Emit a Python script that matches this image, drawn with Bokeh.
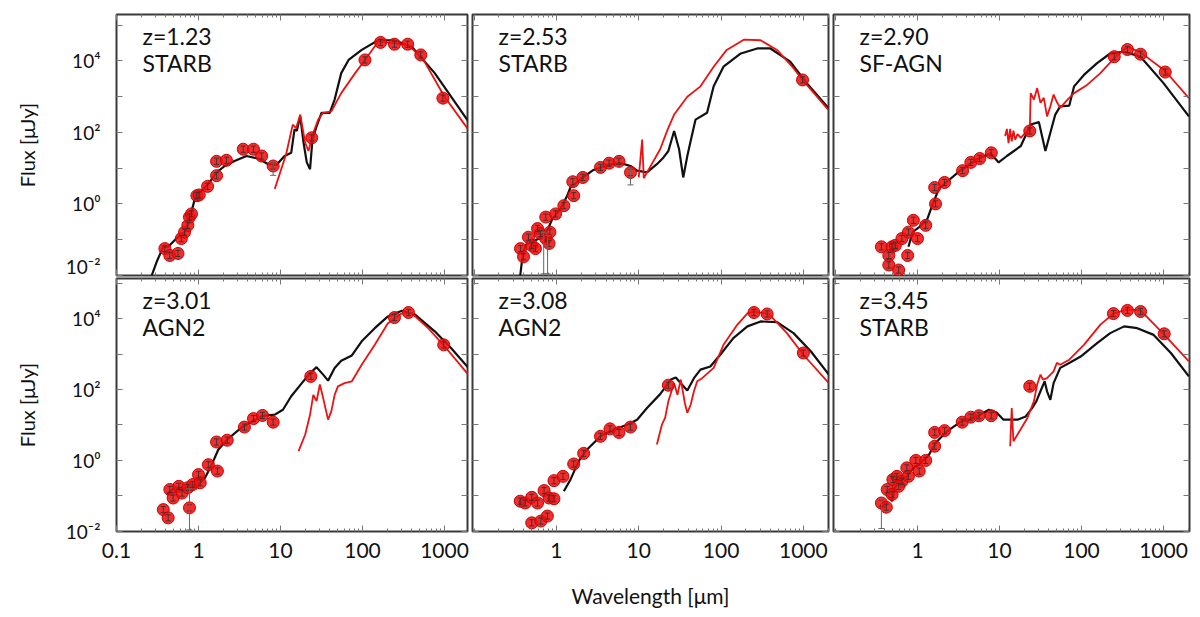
from bokeh.plotting import figure
from bokeh.models import (Range1d, LogAxis, FixedTicker, CustomJSTickFormatter, Label,
                          ColumnDataSource, Whisker, TeeHead)
from bokeh.layouts import row, column
from bokeh.embed import file_html
from bokeh.resources import INLINE

FONT = "Lato"

# ---------------- data (wavelength in micron, flux in microJy) ----------------
panel_z = ["z=1.23", "z=2.53", "z=2.90", "z=3.01", "z=3.08", "z=3.45"]
panel_type = ["STARB", "STARB", "SF-AGN", "AGN2", "AGN2", "STARB"]

# panel 1
p1_obs_wl = [0.389, 0.447, 0.562, 0.617, 0.676, 0.741, 0.776, 0.822, 0.955, 1.02, 1.29, 1.66, 1.66, 2.19,
             3.51, 4.68, 5.89, 8.13, 24.0, 107, 166, 245, 355, 513, 955]
p1_obs_flux = [0.056, 0.036, 0.041, 0.107, 0.162, 0.251, 0.427, 0.525, 1.70, 1.78, 3.09, 6.17, 15.5, 16.6,
               33.9, 33.9, 21.9, 11.5, 70.8, 10700, 33100, 29500, 29500, 14800, 912]
p1_bk_wl = [0.269, 0.309, 0.372, 0.427, 0.537, 0.676, 0.776, 0.902, 1.0, 1.32, 1.66, 2.09, 2.75, 3.85, 5.37,
            7.08, 8.91, 11.2, 13.5, 14.8, 15.8, 17.4, 19.1, 20.9, 22.9, 24.5, 27.5, 31.6, 39.8, 45.7, 55.0,
            67.6, 97.7, 155, 245, 398, 759, 1950]
p1_bk_flux = [0.01, 0.024, 0.063, 0.063, 0.107, 0.162, 0.372, 1.38, 1.91, 3.63, 7.59, 11.5, 15.8, 21.9, 18.6,
              12.9, 12.3, 21.9, 26.9, 120, 112, 282, 51.3, 14.5, 9.33, 63.1, 148, 355, 355, 832, 4570,
              10700, 20400, 38000, 38000, 25100, 4570, 204]
p1_rd_wl = [8.51, 11.7, 14.1, 15.5, 17.4, 20.0, 21.9, 25.1, 28.8, 33.1, 41.7, 55.0, 81.3, 107, 155, 245, 355,
            525, 1000, 1950]
p1_rd_flux = [2.63, 24.5, 166, 132, 316, 51.3, 30.2, 97.7, 229, 355, 389, 1260, 4570, 10700, 34700, 31600,
              27500, 13200, 1000, 120]

# panel 2
p2_obs_wl = [0.366, 0.398, 0.457, 0.501, 0.556, 0.589, 0.638, 0.741, 0.813, 0.832, 0.741, 0.977, 1.23, 1.62,
             1.58, 2.09, 3.43, 4.37, 5.75, 7.94, 977]
p2_obs_flux = [0.056, 0.033, 0.117, 0.069, 0.056, 0.204, 0.148, 0.107, 0.078, 0.162, 0.427, 0.525, 0.891,
               1.70, 4.17, 5.50, 10.5, 13.8, 15.5, 7.59, 2950]
p2_bk_wl = [0.363, 0.380, 0.417, 0.525, 0.676, 0.794, 0.891, 1.12, 1.35, 1.48, 1.95, 2.82, 4.17, 6.03, 7.94,
            9.55, 12.6, 16.6, 20.0, 22.9, 26.9, 30.9, 34.7, 38.9, 42.7, 49.0, 67.6, 81.3, 107, 174, 275,
            398, 692, 1100, 2000]
p2_bk_flux = [0.01, 0.024, 0.069, 0.091, 0.117, 0.204, 0.380, 0.724, 1.70, 2.88, 4.90, 8.91, 12.3, 13.8,
              11.5, 8.51, 7.59, 12.9, 20.0, 30.2, 110, 33.9, 5.50, 21.9, 57.5, 229, 355, 1950, 6920, 16200,
              22400, 22400, 9550, 2400, 490]
p2_rd_wl = [10.0, 11.0, 11.5, 18.2, 22.4, 26.9, 38.9, 56.2, 81.3, 117, 191, 302, 479, 759, 977, 2000]
p2_rd_flux = [5.50, 63.1, 5.25, 33.9, 120, 316, 1000, 1950, 6920, 20400, 39800, 38000, 20400, 6310, 2950,
              437]

# panel 3
p3_obs_wl = [0.363, 0.447, 0.447, 0.490, 0.589, 0.537, 0.646, 0.759, 0.776, 0.891, 1.0, 1.26, 1.66, 1.62,
             2.14, 3.55, 4.47, 5.75, 7.94, 23.4, 251, 363, 525, 1050]
p3_obs_flux = [0.063, 0.036, 0.0195, 0.063, 0.0141, 0.069, 0.107, 0.036, 0.162, 0.347, 0.107, 0.251, 1.0,
               2.88, 3.98, 8.51, 14.5, 18.6, 26.9, 110, 13200, 20900, 15500, 4900]
p3_bk_wl = [0.776, 0.871, 1.05, 1.32, 1.51, 1.82, 2.29, 3.31, 5.37, 7.76, 9.77, 12.3, 18.2, 24.0, 30.2, 36.3,
            41.7, 47.9, 55.0, 70.8, 81.3, 107, 155, 224, 331, 525, 1000, 2040]
p3_bk_flux = [0.063, 0.162, 0.224, 0.380, 0.891, 2.63, 4.17, 8.51, 17.8, 26.3, 14.5, 21.9, 41.7, 166, 195,
              30.2, 97.7, 316, 537, 562, 1950, 4070, 8710, 16200, 18200, 13200, 2400, 282]
p3_rd_wl = [11.7, 12.3, 12.9, 13.5, 14.1, 14.8, 15.5, 16.6, 18.2, 20.9, 23.4, 24.0, 26.3, 28.8, 31.6, 34.7,
            38.0, 41.7, 45.7, 50.1, 55.0, 67.6, 81.3, 117, 170, 251, 363, 525, 1050, 2040]
p3_rd_flux = [79.4, 126, 50.1, 126, 56.2, 112, 63.1, 89.1, 70.8, 100, 110, 1260, 832, 1740, 676, 933, 282,
              537, 1150, 708, 490, 832, 1260, 2140, 4570, 12000, 25100, 17400, 5250, 912]

# panel 4
p4_obs_wl = [0.372, 0.427, 0.447, 0.490, 0.575, 0.631, 0.741, 0.776, 0.851, 1.0, 1.05, 1.32, 1.70, 1.66,
             2.24, 3.63, 4.68, 6.03, 8.13, 23.4, 245, 363, 977]
p4_obs_flux = [0.041, 0.024, 0.151, 0.087, 0.186, 0.120, 0.170, 0.046, 0.209, 0.398, 0.234, 0.759, 0.501,
               3.31, 3.72, 8.71, 15.1, 18.6, 12.0, 234, 10700, 14800, 1820]
p4_bk_wl = [0.407, 0.513, 0.708, 0.851, 1.0, 1.20, 1.45, 1.74, 2.24, 3.31, 5.89, 8.51, 10.7, 13.5, 18.2, 22.9,
            27.5, 33.1, 38.0, 45.7, 55.0, 74.1, 97.7, 141, 204, 302, 437, 759, 1200, 1950]
p4_bk_flux = [0.110, 0.170, 0.170, 0.186, 0.209, 0.324, 0.759, 2.0, 3.89, 8.32, 17.8, 19.5, 26.9, 64.6, 151,
              288, 427, 263, 178, 407, 646, 912, 2290, 5370, 11500, 16600, 12900, 4370, 1480, 407]
p4_rd_wl = [16.6, 20.0, 22.9, 25.1, 27.5, 30.2, 33.1, 38.0, 41.7, 45.7, 50.1, 60.3, 74.1, 97.7, 141, 204, 302,
            398, 631, 1000, 1950]
p4_rd_flux = [1.82, 5.37, 19.5, 70.8, 46.8, 138, 57.5, 14.1, 24.5, 70.8, 123, 151, 170, 501, 1820, 7410,
              14100, 14100, 5370, 1660, 263]

# panel 5
p5_obs_wl = [0.363, 0.417, 0.501, 0.589, 0.708, 0.813, 0.933, 0.501, 0.646, 0.776, 0.933, 1.20, 1.62, 2.14,
             3.43, 4.47, 5.75, 7.94, 22.9, 251, 363, 1000]
p5_obs_flux = [0.071, 0.063, 0.091, 0.063, 0.141, 0.087, 0.083, 0.0174, 0.0195, 0.0269, 0.269, 0.355, 0.794,
               1.58, 4.79, 7.76, 6.17, 8.71, 132, 14800, 13500, 1070]
p5_bk_wl = [1.23, 1.48, 1.86, 2.34, 3.43, 5.01, 7.24, 9.55, 12.6, 18.2, 24.5, 28.2, 32.4, 38.9, 46.8, 56.2,
            74.1, 97.7, 141, 209, 302, 479, 759, 1230, 2040]
p5_bk_flux = [0.135, 0.288, 0.955, 2.0, 4.79, 7.41, 10.2, 14.1, 30.2, 74.1, 191, 219, 151, 93.3, 209, 363,
              447, 955, 2820, 6030, 8320, 7940, 3890, 1200, 263]
p5_rd_wl = [16.6, 19.1, 20.9, 22.9, 25.7, 26.9, 29.5, 32.4, 36.3, 38.9, 42.7, 46.8, 51.3, 58.9, 81.3, 107,
            158, 209, 251, 380, 631, 1000, 2040]
p5_rd_flux = [2.82, 10.2, 15.8, 46.8, 110, 151, 70.8, 191, 41.7, 21.9, 37.2, 89.1, 170, 209, 407, 1820,
              6760, 14100, 15800, 13500, 3890, 955, 151]

# panel 6
p6_obs_wl = [0.363, 0.417, 0.427, 0.490, 0.501, 0.562, 0.646, 0.589, 0.741, 0.776, 0.955, 1.05, 1.26, 1.62,
             1.62, 2.14, 3.51, 4.47, 5.62, 7.94, 23.4, 245, 363, 525, 1020]
p6_obs_flux = [0.063, 0.048, 0.151, 0.110, 0.288, 0.355, 0.257, 0.186, 0.617, 0.355, 1.0, 0.501, 1.0, 2.51,
               6.17, 6.92, 12.0, 16.6, 18.2, 18.2, 123, 13800, 17000, 15800, 3720]
p6_bk_wl = [0.437, 0.490, 0.537, 0.589, 0.741, 0.891, 1.10, 1.38, 1.66, 2.29, 3.31, 5.37, 7.41, 9.33, 11.2,
            16.6, 20.9, 25.1, 28.2, 31.6, 35.5, 38.0, 41.7, 45.7, 55.0, 70.8, 97.7, 155, 224, 331, 479, 759,
            1230, 2040]
p6_bk_flux = [0.1, 0.071, 0.178, 0.257, 0.355, 0.617, 0.851, 1.45, 3.09, 6.61, 12.0, 17.4, 26.9, 21.9, 14.1,
              14.1, 17.4, 30.2, 46.8, 89.1, 170, 89.1, 51.3, 151, 407, 562, 851, 2040, 3890, 6030, 5370, 3470,
              1070, 234]
p6_rd_wl = [13.5, 14.1, 14.8, 21.9, 26.3, 28.8, 31.6, 33.9, 38.0, 45.7, 50.1, 55.0, 70.8, 107, 170, 245, 363,
            525, 1000, 2040]
p6_rd_flux = [2.51, 30.2, 3.47, 15.8, 46.8, 138, 263, 191, 209, 324, 562, 501, 692, 1820, 6760, 13800, 18200,
              17000, 3720, 617]

# long error bars (wavelength, lower, upper) per panel
long_err = {
    1: ([8.13], [6.3], [14.0]),
    2: ([0.70, 0.78, 7.94], [0.011, 0.011, 3.4], [0.16, 0.13, 9.5]),
    3: ([], [], []),
    4: ([0.776], [0.011], [0.16]),
    5: ([], [], []),
    6: ([0.363], [0.012], [0.08]),
}
ERR_FACTOR = 1.22

obs_wl = [p1_obs_wl, p2_obs_wl, p3_obs_wl, p4_obs_wl, p5_obs_wl, p6_obs_wl]
obs_flux = [p1_obs_flux, p2_obs_flux, p3_obs_flux, p4_obs_flux, p5_obs_flux, p6_obs_flux]
bk_wl = [p1_bk_wl, p2_bk_wl, p3_bk_wl, p4_bk_wl, p5_bk_wl, p6_bk_wl]
bk_flux = [p1_bk_flux, p2_bk_flux, p3_bk_flux, p4_bk_flux, p5_bk_flux, p6_bk_flux]
rd_wl = [p1_rd_wl, p2_rd_wl, p3_rd_wl, p4_rd_wl, p5_rd_wl, p6_rd_wl]
rd_flux = [p1_rd_flux, p2_rd_flux, p3_rd_flux, p4_rd_flux, p5_rd_flux, p6_rd_flux]

# tick positions and labels
x_decades = [0.1, 1, 10, 100, 1000]
x_labels_first = [0.1, 1, 10, 100, 1000]
x_labels_other = [1, 10, 100, 1000]
x_minor = [m * d for d in (0.1, 1, 10, 100, 1000) for m in range(2, 10)]
y_decades = [1e-2, 1e-1, 1, 10, 100, 1e3, 1e4, 1e5]
y_labelled = [1e-2, 1, 100, 1e4]
y_unlabelled = [1e-1, 10, 1e3, 1e5]

x_ranges = [(0.1, 1905), (0.0955, 2020), (0.0946, 2075)]
y_ranges = [(0.0099, 2.0e5), (0.0099, 1.35e5)]

frame_w = [351, 356, 356]
col_left = [116, 3, 3]
col_right = [2, 2, 2]
frame_h = [261, 253]
row_top = [14, 1]
row_bottom = [2, 80]

RED = "#ee1111"
TICK = "#777777"

ytick_js = """
const e = Math.round(Math.log10(tick));
const s = {"-": "\\u207b", "0": "\\u2070", "1": "\\u00b9", "2": "\\u00b2", "3": "\\u00b3", "4": "\\u2074", "5": "\\u2075"};
return "10" + String(e).split("").map(c => s[c]).join("");
"""
xtick_js = """
if (tick < 0.5) { return "0.1"; }
return String(Math.round(tick));
"""


def base_style(ax):
    ax.axis_line_color = None
    ax.major_tick_out = 0
    ax.minor_tick_out = 0
    ax.major_tick_line_color = TICK
    ax.minor_tick_line_color = TICK
    ax.major_tick_line_width = 1
    ax.minor_tick_line_width = 1
    ax.major_label_standoff = 0


def bare_axis(ax, ticks, length):
    """axis drawing only (unlabelled) inward ticks"""
    ax.ticker = FixedTicker(ticks=[], minor_ticks=ticks)
    base_style(ax)
    ax.major_tick_in = 0
    ax.minor_tick_in = length


def add_bare_x(p, side, first=None):
    a = first if first is not None else LogAxis()
    bare_axis(a, x_decades, 6)
    if first is None:
        p.add_layout(a, side)
    b = LogAxis()
    bare_axis(b, x_minor, 3)
    p.add_layout(b, side)


def add_bare_y(p, side, first=None):
    a = first if first is not None else LogAxis()
    bare_axis(a, y_decades, 6)
    if first is None:
        p.add_layout(a, side)


figs = []
for i in range(6):
    r, c = divmod(i, 3)
    p = figure(frame_width=frame_w[c], frame_height=frame_h[r],
               x_axis_type="log", y_axis_type="log",
               x_range=Range1d(*x_ranges[c]), y_range=Range1d(*y_ranges[r]),
               output_backend="svg", toolbar_location=None,
               min_border_left=col_left[c], min_border_right=col_right[c],
               min_border_top=row_top[r], min_border_bottom=row_bottom[r])
    p.xgrid.visible = False
    p.ygrid.visible = False
    p.outline_line_color = "#3a3a3a"
    p.outline_line_width = 2
    p.background_fill_color = "white"
    p.border_fill_color = "white"

    bottom_ax = p.xaxis[0]
    left_ax = p.yaxis[0]

    # bottom axis
    if r == 1:
        labs = x_labels_first if c == 0 else x_labels_other
        mins = x_minor if c == 0 else x_minor + [0.1]
        bottom_ax.ticker = FixedTicker(ticks=labs, minor_ticks=mins)
        bottom_ax.formatter = CustomJSTickFormatter(code=xtick_js)
        base_style(bottom_ax)
        bottom_ax.major_tick_in = 6
        bottom_ax.minor_tick_in = 3
        bottom_ax.major_label_text_font = FONT
        bottom_ax.major_label_text_color = "#111111"
        bottom_ax.major_label_text_font_size = "21px"
        bottom_ax.major_label_standoff = 11
    else:
        add_bare_x(p, "below", first=bottom_ax)

    # left axis
    if c == 0:
        left_ax.ticker = FixedTicker(ticks=y_labelled, minor_ticks=y_unlabelled)
        left_ax.formatter = CustomJSTickFormatter(code=ytick_js)
        base_style(left_ax)
        left_ax.major_tick_in = 6
        left_ax.minor_tick_in = 6
        left_ax.major_label_text_font = FONT
        left_ax.major_label_text_color = "#111111"
        left_ax.major_label_text_font_size = "19px"
        left_ax.major_label_standoff = 16
        left_ax.axis_label = "Flux [μJy]"
        left_ax.axis_label_text_font = FONT
        left_ax.axis_label_text_font_style = "normal"
        left_ax.axis_label_text_font_size = "20px"
        left_ax.axis_label_text_color = "#111111"
        left_ax.axis_label_standoff = 24
    else:
        add_bare_y(p, "left", first=left_ax)

    add_bare_x(p, "above")
    add_bare_y(p, "right")

    if r == 1 and c == 1:
        bottom_ax.axis_label = "Wavelength [μm]"
        bottom_ax.axis_label_text_font = FONT
        bottom_ax.axis_label_text_font_style = "normal"
        bottom_ax.axis_label_text_font_size = "21px"
        bottom_ax.axis_label_text_color = "#111111"
        bottom_ax.axis_label_standoff = 22

    # models
    p.line(bk_wl[i], bk_flux[i], line_color="#111111", line_width=2.2)
    p.line(rd_wl[i], rd_flux[i], line_color=RED, line_width=1.8)

    # observations
    src = ColumnDataSource(dict(x=obs_wl[i], y=obs_flux[i],
                                lo=[v / ERR_FACTOR for v in obs_flux[i]],
                                hi=[v * ERR_FACTOR for v in obs_flux[i]]))
    p.scatter("x", "y", source=src, size=12, fill_color=RED, fill_alpha=0.88,
              line_color="#d00000", line_width=1)
    w = Whisker(source=src, base="x", lower="lo", upper="hi", dimension="height",
                line_color="#333333", line_width=0.9,
                lower_head=TeeHead(size=5, line_color="#333333", line_width=0.9),
                upper_head=TeeHead(size=5, line_color="#333333", line_width=0.9))
    w.level = "overlay"
    p.add_layout(w)
    lx, llo, lhi = long_err[i + 1]
    if lx:
        src2 = ColumnDataSource(dict(x=lx, lo=llo, hi=lhi))
        w2 = Whisker(source=src2, base="x", lower="lo", upper="hi", dimension="height",
                     line_color="#666666", line_width=1,
                     lower_head=TeeHead(size=6, line_color="#666666", line_width=1),
                     upper_head=TeeHead(size=6, line_color="#666666", line_width=1))
        w2.level = "overlay"
        p.add_layout(w2)

    fh = frame_h[r]
    for k, txt in enumerate([panel_z[i], panel_type[i]]):
        p.add_layout(Label(x=26, y=fh - (21 if k == 0 else 48), x_units="screen", y_units="screen",
                           text=txt, text_font=FONT, text_font_size="23px", text_color="#111111",
                           text_baseline="middle", text_align="left"))
    figs.append(p)

layout = column(row(*figs[:3]), row(*figs[3:]))
open("out.html", "w").write(file_html(layout, INLINE))
